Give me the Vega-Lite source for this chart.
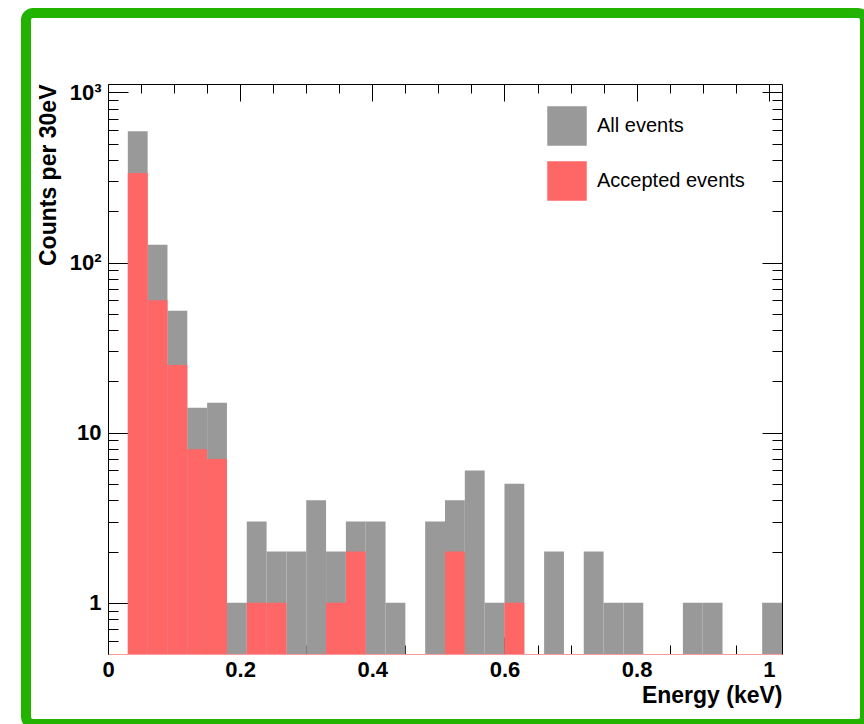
{
  "$schema": "https://vega.github.io/schema/vega-lite/v6.json",
  "width": 839,
  "height": 711,
  "autosize": {"type": "none"},
  "padding": {"left": 26, "top": 13, "right": 0, "bottom": 0},
  "background": "white",
  "config": {
    "view": {"stroke": "#22b200", "strokeWidth": 10, "cornerRadius": 7},
    "axis": {
      "labelFont": "Liberation Sans", "labelFontWeight": "bold", "labelFontSize": 22, "labelColor": "black",
      "titleFont": "Liberation Sans", "titleFontWeight": "bold", "titleFontSize": 23, "titleColor": "black",
      "domainColor": "black", "domainWidth": 1, "tickColor": "black", "tickWidth": 1, "grid": false,
      "labelFlush": false, "labelOverlap": false, "labelBound": false, "zindex": 1
    }
  },
  "data": {
    "values": [
      {"lo": 0.03, "hi": 0.06, "series": "All events", "count": 590},
      {"lo": 0.06, "hi": 0.09, "series": "All events", "count": 127},
      {"lo": 0.09, "hi": 0.12, "series": "All events", "count": 52},
      {"lo": 0.12, "hi": 0.15, "series": "All events", "count": 14},
      {"lo": 0.15, "hi": 0.18, "series": "All events", "count": 15},
      {"lo": 0.18, "hi": 0.21, "series": "All events", "count": 1},
      {"lo": 0.21, "hi": 0.24, "series": "All events", "count": 3},
      {"lo": 0.24, "hi": 0.27, "series": "All events", "count": 2},
      {"lo": 0.27, "hi": 0.30, "series": "All events", "count": 2},
      {"lo": 0.30, "hi": 0.33, "series": "All events", "count": 4},
      {"lo": 0.33, "hi": 0.36, "series": "All events", "count": 2},
      {"lo": 0.36, "hi": 0.39, "series": "All events", "count": 3},
      {"lo": 0.39, "hi": 0.42, "series": "All events", "count": 3},
      {"lo": 0.42, "hi": 0.45, "series": "All events", "count": 1},
      {"lo": 0.48, "hi": 0.51, "series": "All events", "count": 3},
      {"lo": 0.51, "hi": 0.54, "series": "All events", "count": 4},
      {"lo": 0.54, "hi": 0.57, "series": "All events", "count": 6},
      {"lo": 0.57, "hi": 0.60, "series": "All events", "count": 1},
      {"lo": 0.60, "hi": 0.63, "series": "All events", "count": 5},
      {"lo": 0.66, "hi": 0.69, "series": "All events", "count": 2},
      {"lo": 0.72, "hi": 0.75, "series": "All events", "count": 2},
      {"lo": 0.75, "hi": 0.78, "series": "All events", "count": 1},
      {"lo": 0.78, "hi": 0.81, "series": "All events", "count": 1},
      {"lo": 0.87, "hi": 0.90, "series": "All events", "count": 1},
      {"lo": 0.90, "hi": 0.93, "series": "All events", "count": 1},
      {"lo": 0.99, "hi": 1.02, "series": "All events", "count": 1},
      {"lo": 0.03, "hi": 0.06, "series": "Accepted events", "count": 336},
      {"lo": 0.06, "hi": 0.09, "series": "Accepted events", "count": 60},
      {"lo": 0.09, "hi": 0.12, "series": "Accepted events", "count": 25},
      {"lo": 0.12, "hi": 0.15, "series": "Accepted events", "count": 8},
      {"lo": 0.15, "hi": 0.18, "series": "Accepted events", "count": 7},
      {"lo": 0.21, "hi": 0.24, "series": "Accepted events", "count": 1},
      {"lo": 0.24, "hi": 0.27, "series": "Accepted events", "count": 1},
      {"lo": 0.33, "hi": 0.36, "series": "Accepted events", "count": 1},
      {"lo": 0.36, "hi": 0.39, "series": "Accepted events", "count": 2},
      {"lo": 0.51, "hi": 0.54, "series": "Accepted events", "count": 2},
      {"lo": 0.60, "hi": 0.63, "series": "Accepted events", "count": 1}
    ]
  },
  "layer": [
    {
      "transform": [{"filter": "datum.series == 'All events'"}],
      "mark": {"type": "bar", "opacity": 1},
      "encoding": {
        "x": {
          "field": "lo", "type": "quantitative",
          "scale": {"domain": [0, 1.02], "range": [82, 756], "nice": false, "zero": false},
          "axis": {
            "orient": "bottom", "offset": -70,
            "values": [0, 0.05, 0.1, 0.15, 0.2, 0.25, 0.3, 0.35, 0.4, 0.45, 0.5, 0.55, 0.6, 0.65, 0.7, 0.75, 0.8, 0.85, 0.9, 0.95, 1],
            "tickSize": {"condition": {"test": "abs(datum.value*5 - round(datum.value*5)) < 0.001", "value": -17}, "value": -9},
            "labelExpr": "abs(datum.value*5 - round(datum.value*5)) < 0.001 ? (datum.value == 0 ? '0' : datum.value == 1 ? '1' : format(datum.value, '.1f')) : ''",
            "labelPadding": 22,
            "domainColor": "#ff9a9a",
            "title": "Energy (keV)", "titleAnchor": "end", "titleAlign": "right", "titleBaseline": "alphabetic", "titleY": 48
          }
        },
        "x2": {"field": "hi"},
        "y": {
          "field": "count", "type": "quantitative",
          "scale": {"type": "log", "domain": [0.5, 1120], "range": [641, 71], "nice": false},
          "axis": {
            "orient": "left", "offset": -82,
            "values": [0.6, 0.7, 0.8, 0.9, 1, 2, 3, 4, 5, 6, 7, 8, 9, 10, 20, 30, 40, 50, 60, 70, 80, 90, 100, 200, 300, 400, 500, 600, 700, 800, 900, 1000],
            "tickSize": {"condition": {"test": "datum.value == 1 || datum.value == 10 || datum.value == 100 || datum.value == 1000", "value": -20}, "value": -10},
            "labelExpr": "datum.value == 1 ? '1' : datum.value == 10 ? '10' : datum.value == 100 ? '10²' : datum.value == 1000 ? '10³' : ''",
            "labelPadding": 27,
            "title": "Counts per 30eV", "titleAnchor": "end", "titleX": -53, "titleBaseline": "alphabetic"
          }
        },
        "y2": {"datum": 0.5},
        "color": {
          "field": "series", "type": "nominal",
          "scale": {"domain": ["All events", "Accepted events"], "range": ["#999999", "#ff6666"]},
          "legend": {
            "orient": "none", "legendX": 521, "legendY": 93, "title": null,
            "symbolType": "square", "symbolSize": 1560, "symbolStrokeWidth": 0, "symbolOpacity": 1,
            "labelFont": "Liberation Sans", "labelFontSize": 20, "labelColor": "black", "labelLimit": 400,
            "labelOffset": 10, "rowPadding": 15
          }
        }
      }
    },
    {
      "transform": [{"filter": "datum.series == 'Accepted events'"}],
      "mark": {"type": "bar", "opacity": 1},
      "encoding": {
        "x": {
          "field": "lo", "type": "quantitative",
          "scale": {"domain": [0, 1.02], "range": [82, 756], "nice": false, "zero": false},
          "axis": {
            "orient": "top", "offset": -71,
            "values": [0, 0.05, 0.1, 0.15, 0.2, 0.25, 0.3, 0.35, 0.4, 0.45, 0.5, 0.55, 0.6, 0.65, 0.7, 0.75, 0.8, 0.85, 0.9, 0.95, 1],
            "tickSize": {"condition": {"test": "abs(datum.value*5 - round(datum.value*5)) < 0.001", "value": -17}, "value": -9},
            "labels": false, "title": null
          }
        },
        "x2": {"field": "hi"},
        "y": {
          "field": "count", "type": "quantitative",
          "scale": {"type": "log", "domain": [0.5, 1120], "range": [641, 71], "nice": false},
          "axis": {
            "orient": "right", "offset": -83,
            "values": [0.6, 0.7, 0.8, 0.9, 1, 2, 3, 4, 5, 6, 7, 8, 9, 10, 20, 30, 40, 50, 60, 70, 80, 90, 100, 200, 300, 400, 500, 600, 700, 800, 900, 1000],
            "tickSize": {"condition": {"test": "datum.value == 1 || datum.value == 10 || datum.value == 100 || datum.value == 1000", "value": -20}, "value": -10},
            "labels": false, "title": null
          }
        },
        "y2": {"datum": 0.5},
        "color": {
          "field": "series", "type": "nominal",
          "scale": {"domain": ["All events", "Accepted events"], "range": ["#999999", "#ff6666"]}
        }
      }
    }
  ],
  "resolve": {"axis": {"x": "independent", "y": "independent"}}
}
